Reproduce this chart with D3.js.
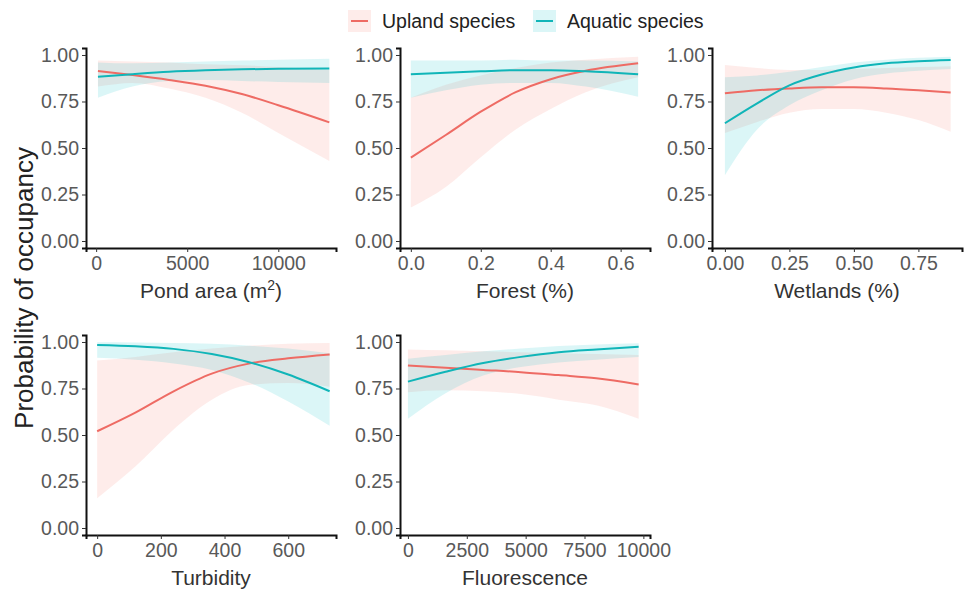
<!DOCTYPE html>
<html>
<head>
<meta charset="utf-8">
<script src="https://cdn.jsdelivr.net/npm/d3@7"></script>
<style>
  body { margin: 0; background: #fff; }
  text { font-family: "Liberation Sans", Arial, sans-serif; }
</style>
</head>
<body>
<svg id="chart" width="966" height="590"></svg>
<script>
// ---- data (fitted probability + 95% band) ----
var seriesNames = ["Upland species", "Aquatic species"];
var yTicks = [0, 0.25, 0.5, 0.75, 1];

// Pond area (m2)
var pondX = [100, 2000, 4000, 6000, 8000, 10000, 12800];
var pondUpFit = [0.914, 0.892, 0.866, 0.835, 0.790, 0.730, 0.638];
var pondUpLo = [0.83, 0.85, 0.82, 0.77, 0.69, 0.58, 0.43];
var pondUpHi = [0.97, 0.965, 0.96, 0.95, 0.945, 0.935, 0.92];
var pondAqFit = [0.883, 0.897, 0.910, 0.918, 0.923, 0.926, 0.928];
var pondAqLo = [0.77, 0.83, 0.86, 0.865, 0.86, 0.855, 0.85];
var pondAqHi = [0.96, 0.955, 0.96, 0.965, 0.97, 0.975, 0.98];

// Forest (%)
var forestX = [0, 0.1, 0.2, 0.3, 0.4, 0.5, 0.65];
var forestUpFit = [0.448, 0.57, 0.695, 0.80, 0.87, 0.915, 0.955];
var forestUpLo = [0.18, 0.29, 0.45, 0.60, 0.71, 0.80, 0.88];
var forestUpHi = [0.77, 0.84, 0.89, 0.93, 0.96, 0.975, 0.99];
var forestAqFit = [0.896, 0.905, 0.912, 0.918, 0.918, 0.912, 0.896];
var forestAqLo = [0.77, 0.81, 0.84, 0.85, 0.85, 0.83, 0.776];
var forestAqHi = [0.97, 0.97, 0.97, 0.975, 0.97, 0.97, 0.965];

// Wetlands (%)
var wetX = [0, 0.125, 0.25, 0.375, 0.5, 0.625, 0.75, 0.875];
var wetUpFit = [0.794, 0.81, 0.82, 0.826, 0.826, 0.82, 0.81, 0.798];
var wetUpLo = [0.58, 0.64, 0.69, 0.71, 0.71, 0.69, 0.65, 0.588];
var wetUpHi = [0.946, 0.93, 0.92, 0.92, 0.925, 0.93, 0.935, 0.94];
var wetAqFit = [0.633, 0.74, 0.837, 0.895, 0.933, 0.955, 0.966, 0.973];
var wetAqLo = [0.354, 0.6, 0.73, 0.81, 0.87, 0.9, 0.915, 0.925];
var wetAqHi = [0.88, 0.89, 0.91, 0.935, 0.96, 0.975, 0.985, 0.99];

// Turbidity
var turbX = [0, 120, 240, 360, 480, 600, 730];
var turbUpFit = [0.52, 0.62, 0.735, 0.83, 0.885, 0.912, 0.933];
var turbUpLo = [0.16, 0.33, 0.53, 0.69, 0.77, 0.78, 0.76];
var turbUpHi = [0.90, 0.92, 0.945, 0.965, 0.98, 0.99, 0.995];
var turbAqFit = [0.984, 0.977, 0.963, 0.935, 0.89, 0.825, 0.735];
var turbAqLo = [0.915, 0.905, 0.885, 0.85, 0.78, 0.68, 0.55];
var turbAqHi = [0.998, 0.997, 0.995, 0.99, 0.98, 0.965, 0.94];

// Fluorescence
var fluoX = [0, 1600, 3200, 4800, 6400, 8000, 9800];
var fluoUpFit = [0.873, 0.862, 0.85, 0.838, 0.822, 0.805, 0.772];
var fluoUpLo = [0.73, 0.74, 0.735, 0.72, 0.69, 0.66, 0.587];
var fluoUpHi = [0.96, 0.955, 0.95, 0.945, 0.94, 0.935, 0.93];
var fluoAqFit = [0.787, 0.84, 0.887, 0.92, 0.945, 0.96, 0.974];
var fluoAqLo = [0.587, 0.725, 0.82, 0.865, 0.89, 0.905, 0.92];
var fluoAqHi = [0.91, 0.93, 0.95, 0.965, 0.978, 0.986, 0.993];

// x tick labels per panel
var pondTicks = [0, 5000, 10000];
var forestTicks = [0, 0.2, 0.4, 0.6];
var wetTicks = [0, 0.25, 0.5, 0.75];
var turbTicks = [0, 200, 400, 600];
var fluoTicks = [0, 2500, 5000, 7500, 10000];

var colors = ["#EE6B64", "#10B5B8"];
var fills = ["#F8766D", "#00BFC4"];

function rows(xs, fit, lo, hi) {
  return xs.map(function (x, i) { return { x: x, fit: fit[i], lo: lo[i], hi: hi[i] }; });
}

var panels = [
  { title: "Pond area (m", sup: "2", fmt: "d", ticks: pondTicks, dom: [-556, 13167], col: 0, row: 0,
    series: [rows(pondX, pondUpFit, pondUpLo, pondUpHi), rows(pondX, pondAqFit, pondAqLo, pondAqHi)] },
  { title: "Forest (%)", fmt: ".1f", ticks: forestTicks, dom: [-0.031, 0.684], col: 1, row: 0,
    series: [rows(forestX, forestUpFit, forestUpLo, forestUpHi), rows(forestX, forestAqFit, forestAqLo, forestAqHi)] },
  { title: "Wetlands (%)", fmt: ".2f", ticks: wetTicks, dom: [-0.05, 0.919], col: 2, row: 0,
    series: [rows(wetX, wetUpFit, wetUpLo, wetUpHi), rows(wetX, wetAqFit, wetAqLo, wetAqHi)] },
  { title: "Turbidity", fmt: "d", ticks: turbTicks, dom: [-35, 750], col: 0, row: 1,
    series: [rows(turbX, turbUpFit, turbUpLo, turbUpHi), rows(turbX, turbAqFit, turbAqLo, turbAqHi)] },
  { title: "Fluorescence", fmt: "d", ticks: fluoTicks, dom: [-337, 10282], col: 1, row: 1,
    series: [rows(fluoX, fluoUpFit, fluoUpLo, fluoUpHi), rows(fluoX, fluoAqFit, fluoAqLo, fluoAqHi)] }
];

// layout
var colLeft = [86, 400, 712];
var panelW = 250;
var rowTop = [48, 335];
var panelH = 200;

var svg = d3.select("#chart");

panels.forEach(function (p) {
  var left = colLeft[p.col], top = rowTop[p.row];
  var x = d3.scaleLinear().domain(p.dom).range([left, left + panelW]);
  var y = d3.scaleLinear().domain([-0.0376, 1.0376]).range([top + panelH, top]);
  var g = svg.append("g").attr("class", "panel");

  var band = d3.area()
    .x(d => x(d.x))
    .y0(d => y(d.lo))
    .y1(d => y(d.hi))
    .curve(d3.curveMonotoneX);
  var fitLine = d3.line()
    .x(d => x(d.x))
    .y(d => y(d.fit))
    .curve(d3.curveMonotoneX);

  p.series.forEach(function (s, i) {
    g.append("path")
      .datum(s)
      .attr("d", band)
      .attr("fill", fills[i])
      .attr("fill-opacity", 0.14);
  });
  p.series.forEach(function (s, i) {
    g.append("path")
      .datum(s)
      .attr("d", fitLine)
      .attr("fill", "none")
      .attr("stroke", colors[i])
      .attr("stroke-width", 2);
  });

  var yAxis = g.append("g")
    .attr("transform", "translate(" + left + ",0)")
    .call(d3.axisLeft(y).tickValues(yTicks).tickFormat(d3.format(".2f")).tickSizeOuter(0).tickSize(4).tickPadding(3));
  var xAxis = g.append("g")
    .attr("transform", "translate(0," + (top + panelH) + ")")
    .call(d3.axisBottom(x).tickValues(p.ticks).tickFormat(d3.format(p.fmt)).tickSizeOuter(0).tickSize(4).tickPadding(4));

  [yAxis, xAxis].forEach(function (ax) {
    ax.select(".domain").attr("stroke", "#111").attr("stroke-width", 2);
    ax.selectAll(".tick line").attr("stroke", "#333").attr("stroke-width", 1);
    ax.selectAll(".tick text")
      .attr("fill", "#595959")
      .style("font-size", "19.5px")
      .style("font-family", "'Liberation Sans', Arial, sans-serif");
  });

  var t = g.append("text")
    .attr("x", left + panelW / 2)
    .attr("y", top + panelH + 50)
    .attr("text-anchor", "middle")
    .attr("fill", "#333")
    .style("font-size", "21px")
    .text(p.title);
  if (p.sup) {
    t.append("tspan").attr("dy", -8).style("font-size", "14px").text(p.sup);
    t.append("tspan").attr("dy", 8).text(")");
  }
});

// shared y title
svg.append("text")
  .attr("transform", "translate(24,288) rotate(-90)")
  .attr("text-anchor", "middle")
  .attr("dominant-baseline", "central")
  .attr("fill", "#222")
  .style("font-size", "26px")
  .text("Probability of occupancy");

// legend
var legendX = [348, 533];
seriesNames.forEach(function (name, i) {
  var lg = svg.append("g").attr("transform", "translate(" + legendX[i] + ",21)");
  lg.append("rect")
    .attr("x", 0).attr("y", -11).attr("width", 23).attr("height", 22)
    .attr("fill", fills[i]).attr("fill-opacity", 0.14);
  lg.append("line")
    .attr("x1", 3).attr("x2", 20)
    .attr("stroke", colors[i]).attr("stroke-width", 2);
  lg.append("text")
    .attr("x", 34)
    .attr("dominant-baseline", "central")
    .attr("fill", "#222")
    .style("font-size", "19.5px")
    .text(name);
});
</script>
</body>
</html>
